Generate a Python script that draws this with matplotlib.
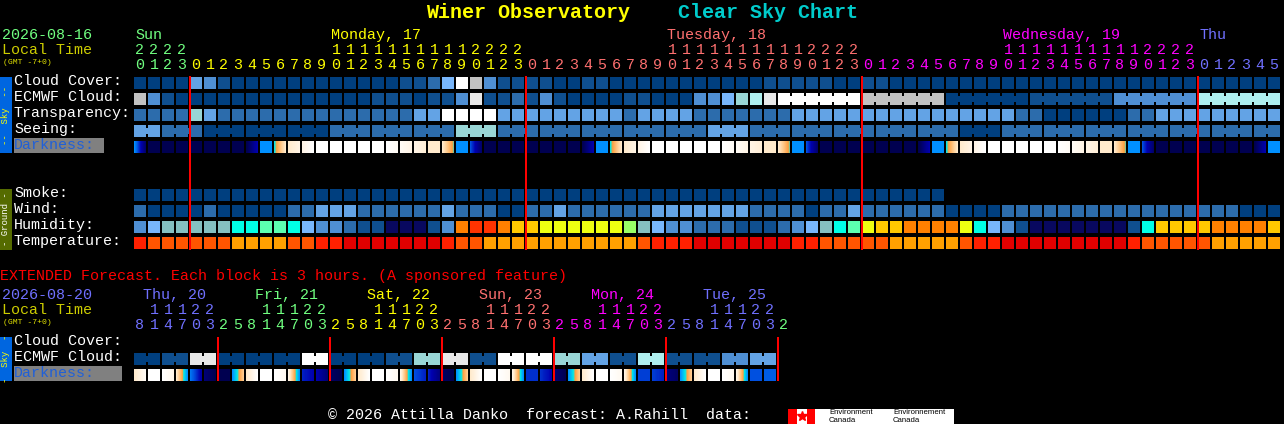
#Clear Sky Chart - Winer Observatory

import numpy as np
import matplotlib
matplotlib.use('Agg')
import matplotlib.pyplot as plt
from matplotlib.colors import LinearSegmentedColormap

FONT = 'Liberation Mono'

# Niveis (um valor por hora, a partir das 20h de domingo)
hours = [20, 21, 22, 23,
         0, 1, 2, 3, 4, 5, 6, 7, 8, 9, 10, 11, 12, 13, 14, 15, 16, 17, 18, 19, 20, 21, 22, 23,
         0, 1, 2, 3, 4, 5, 6, 7, 8, 9, 10, 11, 12, 13, 14, 15, 16, 17, 18, 19, 20, 21, 22, 23,
         0, 1, 2, 3, 4, 5, 6, 7, 8, 9, 10, 11, 12, 13, 14, 15, 16, 17, 18, 19, 20, 21, 22, 23,
         0, 1, 2, 3, 4, 5]

cloud_cover = [0, 0, 0, 0,
               4, 3, 1, 0, 0, 0, 0, 0, 0, 0, 0, 0, 0, 0, 0, 1, 1, 2, 5, 10, 8, 3, 1, 1,
               1, 1, 0, 0, 1, 1, 0, 0, 0, 0, 0, 0, 0, 0, 0, 0, 0, 1, 1, 1, 1, 1, 0, 0,
               1, 1, 0, 0, 0, 0, 0, 0, 0, 0, 0, 0, 0, 0, 0, 0, 0, 0, 0, 0, 0, 0, 0, 0,
               0, 0, 0, 0, 0, 0]
ecmwf_cloud = [8, 3, 1, 0,
               0, 0, 0, 0, 0, 0, 0, 0, 0, 0, 0, 0, 0, 1, 1, 1, 0, 1, 1, 3, 9, 1, 1, 2,
               1, 3, 1, 0, 0, 0, 0, 1, 1, 0, 0, 0, 3, 3, 5, 6, 7, 9, 10, 10, 10, 10, 10, 10,
               8, 8, 8, 8, 8, 8, 0, 0, 0, 0, 0, 0, 1, 1, 1, 1, 1, 1, 3, 3, 3, 3, 3, 3,
               7, 7, 7, 7, 7, 7]
transparency = [2, 2, 2, 2,
                6, 4, 2, 2, 2, 2, 2, 2, 2, 2, 2, 2, 2, 2, 2, 2, 4, 4, 10, 10, 10, 10, 4, 4,
                4, 4, 4, 4, 4, 4, 4, 2, 4, 4, 4, 4, 2, 2, 2, 2, 2, 2, 2, 4, 4, 4, 4, 4,
                4, 4, 4, 4, 4, 4, 4, 4, 4, 4, 4, 2, 2, 0, 0, 0, 0, 0, 0, 2, 2, 4, 4, 4,
                4, 4, 4, 4, 4, 4]
seeing = [4, 4, 2, 2,
          2, 0, 0, 0, 0, 0, 0, 0, 0, 0, 2, 2, 2, 2, 2, 2, 2, 2, 2, 6, 6, 6, 2, 2,
          2, 2, 2, 2, 2, 2, 2, 2, 2, 2, 2, 2, 2, 4, 4, 4, 2, 2, 2, 2, 2, 2, 2, 2,
          2, 2, 2, 2, 2, 2, 2, 0, 0, 0, 2, 2, 2, 2, 2, 2, 2, 2, 2, 2, 2, 2, 2, 2,
          2, 2, 2, 2, 2, 2]
smoke = [0, 0, 0, 0,
         0, 0, 0, 0, 0, 0, 0, 0, 0, 0, 0, 0, 0, 0, 0, 0, 0, 0, 0, 0, 0, 0, 0, 0,
         0, 0, 0, 0, 0, 0, 0, 0, 0, 0, 0, 0, 0, 0, 0, 0, 0, 0, 0, 0, 0, 0, 0, 0,
         0, 0, 0, 0, 0, 0]
wind = [2, 0, 0, 0,
        0, 2, 0, 0, 0, 0, 0, 2, 2, 4, 4, 4, 2, 2, 2, 2, 2, 2, 4, 2, 2, 2, 0, 0,
        2, 2, 4, 2, 2, 2, 2, 2, 2, 4, 4, 4, 4, 4, 4, 4, 2, 2, 2, 2, 0, 2, 2, 4,
        2, 2, 2, 2, 2, 2, 0, 0, 0, 0, 2, 2, 2, 2, 2, 2, 2, 2, 2, 2, 2, 2, 2, 2,
        2, 2, 2, 0, 0, 0]
humidity = [3, 4, 5, 5,
            5, 5, 5, 6, 6, 7, 7, 6, 4, 3, 3, 2, 1, 1, 0, 0, 0, 1, 3, 11, 12, 12, 11, 10,
            10, 9, 9, 9, 9, 9, 9, 8, 5, 4, 3, 3, 2, 2, 2, 1, 1, 1, 2, 3, 4, 5, 6, 7,
            9, 10, 10, 11, 11, 11, 11, 9, 6, 4, 3, 1, 0, 0, 0, 0, 0, 0, 0, 1, 6, 10, 10, 10,
            10, 11, 11, 11, 11, 10]
temperature = [1, 2, 2, 2,
               2, 2, 2, 3, 3, 3, 3, 2, 2, 1, 1, 0, 0, 0, 0, 0, 0, 0, 1, 2, 2, 3, 3, 3,
               3, 3, 3, 3, 3, 3, 3, 3, 2, 1, 1, 1, 0, 0, 0, 0, 0, 0, 0, 1, 1, 2, 2, 2,
               2, 2, 3, 3, 3, 3, 3, 2, 1, 1, 0, 0, 0, 0, 0, 0, 0, 0, 0, 1, 2, 2, 2, 2,
               2, 3, 3, 3, 3, 3]
darkness_start = [2, 0, 0, 0,
                  0, 0, 0, 0, 0, 2, 3, 5, 5.5, 6, 6, 6, 6, 6, 6, 5.8, 5.5, 5, 5, 2, 1.5, 0, 0, 0,
                  0, 0, 0, 0, 0, 2, 3, 5, 5.5, 6, 6, 6, 6, 6, 6, 5.8, 5.5, 5, 5, 2, 1.5, 0, 0, 0,
                  0, 0, 0, 0, 0, 2, 3, 5, 5.5, 6, 6, 6, 6, 6, 6, 5.8, 5.5, 5, 5, 2, 1.5, 0, 0, 0,
                  0, 0, 0, 0, 0, 2]
darkness_end = [0.3, 0, 0, 0,
                0, 0, 0, 0, 1, 2, 5, 5.5, 6, 6, 6, 6, 6, 6, 5.8, 5.5, 5.2, 5, 3.2, 2, 0.3, 0, 0, 0,
                0, 0, 0, 0, 1, 2, 5, 5.5, 6, 6, 6, 6, 6, 6, 5.8, 5.5, 5.2, 5, 3.2, 2, 0.3, 0, 0, 0,
                0, 0, 0, 0, 1, 2, 5, 5.5, 6, 6, 6, 6, 6, 6, 5.8, 5.5, 5.2, 5, 3.2, 2, 0.3, 0, 0, 0,
                0, 0, 0, 0, 1, 2]

# Previsao estendida (cada coluna = 3 horas)
ext_hours = [8, 11, 14, 17, 20, 23,
             2, 5, 8, 11, 14, 17, 20, 23,
             2, 5, 8, 11, 14, 17, 20, 23,
             2, 5, 8, 11, 14, 17, 20, 23,
             2, 5, 8, 11, 14, 17, 20, 23,
             2, 5, 8, 11, 14, 17, 20, 23,
             2]
ext_ecmwf = [0, 1, 9, 0, 0, 0, 10, 0, 0, 1, 6, 9, 1, 10, 10, 6, 4, 1, 7, 1, 1, 3, 4]
ext_darkness_start = [5, 6, 6, 5, 1.8, 0.4,
                      0, 2, 5, 6, 6, 5.5, 1.2, 1,
                      0.2, 2, 5, 6, 6, 5.5, 1.5, 1.2,
                      0.2, 2, 5, 6, 6, 5.5, 1.3, 1.3,
                      0.4, 2, 5, 6, 6, 5.5, 1.4, 1.4,
                      0.5, 2, 5, 6, 6, 5.5, 1.5, 1.6]
ext_darkness_end = [5.8, 6, 5.6, 2, 0.9, 0,
                    0, 4.3, 6, 6, 5.7, 2, 1, 0.4,
                    0, 4.3, 6, 6, 5.7, 2, 1.2, 0.5,
                    0, 4.3, 6, 6, 5.7, 2, 1.3, 1,
                    0, 4.3, 6, 6, 5.7, 2, 1.4, 1.2,
                    0.2, 4.3, 6, 6, 5.7, 2, 1.5, 1.6]

day_names = ['Sun', 'Monday, 17', 'Tuesday, 18', 'Wednesday, 19', 'Thu']
day_columns = [0, 14, 38, 62, 76]
day_colors = ['#70ff80', '#ffff00', '#ff7070', '#ff00ff', '#7070ff']
day_last_column = [3, 27, 51, 75, 81]
midnight_columns = [4, 28, 52, 76]

ext_day_names = ['Thu, 20', 'Fri, 21', 'Sat, 22', 'Sun, 23', 'Mon, 24', 'Tue, 25']
ext_day_colors = ['#7070ff', '#70ff80', '#ffff00', '#ff7070', '#ff00ff', '#7070ff', '#70ff80']
ext_day_last_column = [5, 13, 21, 29, 37, 45, 46]
ext_midnight_columns = [6, 14, 22, 30, 38, 46]

# Paletas
sky_colors = ['#003f7f', '#0f4f8f', '#2c6cac', '#4f8fd3', '#63a3e5', '#78b6fb',
              '#99d6d6', '#aeeeee', '#c2c2c2', '#e8e8e8', '#ffffff']
humidity_colors = ['#08085f', '#0f4f8f', '#2c6cac', '#4f8fd3', '#78b6fb', '#85c0c0', '#00ffe6',
                   '#5cffb0', '#99ff66', '#eeff11', '#ffc800', '#ff8000', '#ff3300']
temperature_colors = ['#e00000', '#ff2000', '#ff5500', '#ffa000']
darkness_cmap = LinearSegmentedColormap.from_list('darkness', [
    (0 / 6, '#000050'), (1 / 6, '#0000b0'), (1.5 / 6, '#0050e0'), (2 / 6, '#0090ff'),
    (3 / 6, '#00e8e8'), (3.4 / 6, '#ffa040'), (4.2 / 6, '#ffc888'), (5 / 6, '#ffeacc'),
    (6 / 6, '#ffffff')])

WHITE = '#ffffff'
LOCAL = '#cccc00'
RED = '#ff0000'

X0 = 134  # borda esquerda da primeira coluna
PITCH = 14
CELL = 12


def column_x(c):
    return X0 + PITCH * np.asarray(c)


def draw_row(ax, levels, y, colors, groups=None):
    c = np.arange(len(levels))
    cell_colors = [colors[v] for v in levels]
    ax.bar(column_x(c), CELL, width=CELL, bottom=y, align='edge',
           color=cell_colors, antialiased=False, zorder=2)
    if groups is None:
        return
    # Blocos de varias horas: ligacao estreita entre celulas do mesmo bloco
    for i in range(len(levels) - 1):
        if groups[i] == groups[i + 1] and levels[i] == levels[i + 1]:
            ax.bar(column_x(i) + CELL, CELL - 6, width=PITCH - CELL, bottom=y + 3, align='edge',
                   color=cell_colors[i], antialiased=False, zorder=2)


def draw_gradient_row(ax, start, end, y):
    for c in range(len(start)):
        values = np.linspace(start[c], end[c], CELL).reshape(1, -1)
        ax.imshow(values, cmap=darkness_cmap, vmin=0, vmax=6, aspect='auto',
                  interpolation='nearest', zorder=2,
                  extent=(column_x(c), column_x(c) + CELL, y + CELL, y))


def draw_day_lines(ax, columns, y0, y1):
    # Barra vermelha de 2 px na virada do dia
    ax.bar(column_x(columns) - 1, y1 - y0, width=2, bottom=y0, align='edge',
           color=RED, antialiased=False, zorder=5)


def draw_hours(ax, hour_list, last_columns, colors, y_tens, y_ones):
    day = 0
    for c, h in enumerate(hour_list):
        while c > last_columns[day]:
            day += 1
        x = column_x(c) + CELL / 2
        if h >= 10:
            label(ax, x, y_tens, str(h // 10), colors[day], ha='center')
        label(ax, x, y_ones, str(h % 10), colors[day], ha='center')


def label(ax, x, y, text, color, size=10.8, ha='left', **kw):
    ax.text(x, y, text, color=color, fontsize=size, family=FONT, ha=ha, va='center', **kw)


def side_bar(ax, y0, y1, color, text, text_color):
    ax.bar(0, y1 - y0, width=12, bottom=y0, align='edge', color=color, antialiased=False)
    ax.text(6, (y0 + y1) / 2, text, color=text_color, fontsize=6.5, family=FONT,
            rotation=90, ha='center', va='center')


def main():
    fig = plt.figure(figsize=(12.84, 4.24), dpi=100, facecolor='black')
    ax = fig.add_axes([0, 0, 1, 1])
    ax.set_facecolor('black')

    # Titulo
    ax.text(426, 12, 'Winer Observatory', color='#ffff00', fontsize=14.4, family=FONT,
            weight='bold', va='center')
    ax.text(678, 12, 'Clear Sky Chart', color='#00cccc', fontsize=14.4, family=FONT,
            weight='bold', va='center')

    # Cabecalho do grafico principal
    label(ax, 2, 35, '2026-08-16', '#70ff80')
    label(ax, 2, 50, 'Local Time', LOCAL)
    label(ax, 3, 62, '(GMT -7+0)', '#e0e000', size=5.9)
    for name, col, color in zip(day_names, day_columns, day_colors):
        label(ax, column_x(col) + 1, 35, name, color)
    draw_hours(ax, hours, day_last_column, day_colors, 50, 65)

    # Linhas do ceu
    sky_rows = ['Cloud Cover:', 'ECMWF Cloud:', 'Transparency:', 'Seeing:']
    for i, name in enumerate(sky_rows):
        label(ax, 14, 81 + 16 * i, name, WHITE)
    ax.bar(14, 15, width=90, bottom=138, align='edge', color='#808080', antialiased=False)
    label(ax, 14, 145, 'Darkness:', '#2060d8')
    side_bar(ax, 77, 153, '#0066e0', '--  Sky  --', '#ffff00')

    ecmwf_groups = [i if i < 46 else 46 + (i - 46) // 6 for i in range(len(ecmwf_cloud))]
    seeing_groups = [(i + 1) // 3 for i in range(len(seeing))]
    draw_row(ax, cloud_cover, 77, sky_colors)
    draw_row(ax, ecmwf_cloud, 93, sky_colors, ecmwf_groups)
    draw_row(ax, transparency, 109, sky_colors)
    draw_row(ax, seeing, 125, sky_colors, seeing_groups)
    draw_gradient_row(ax, darkness_start, darkness_end, 141)

    # Linhas do solo
    ground_rows = ['Smoke:', 'Wind:', 'Humidity:', 'Temperature:']
    for i, name in enumerate(ground_rows):
        label(ax, 14, 193 + 16 * i, name, WHITE)
    side_bar(ax, 189, 250, '#556b00', '- Ground -', WHITE)

    draw_row(ax, smoke, 189, sky_colors)
    draw_row(ax, wind, 205, sky_colors)
    draw_row(ax, humidity, 221, humidity_colors)
    draw_row(ax, temperature, 237, temperature_colors)

    # Separadores de dia
    draw_day_lines(ax, midnight_columns, 76, 250)

    # Previsao estendida
    label(ax, 0, 276, 'EXTENDED Forecast. Each block is 3 hours. (A sponsored feature)', RED)
    label(ax, 2, 295, '2026-08-20', '#7070ff')
    label(ax, 2, 310, 'Local Time', LOCAL)
    label(ax, 3, 322, '(GMT -7+0)', '#e0e000', size=5.9)
    for k, (name, color) in enumerate(zip(ext_day_names, ext_day_colors)):
        label(ax, 143 + 112 * k, 295, name, color)
    draw_hours(ax, ext_hours, ext_day_last_column, ext_day_colors, 310, 325)

    label(ax, 14, 341, 'Cloud Cover:', WHITE)
    label(ax, 14, 357, 'ECMWF Cloud:', WHITE)
    ax.bar(14, 15, width=108, bottom=366, align='edge', color='#808080', antialiased=False)
    label(ax, 14, 373, 'Darkness:', '#2060d8')
    side_bar(ax, 337, 381, '#0066e0', '-  Sky  -', '#ffff00')

    ext_levels = np.repeat(ext_ecmwf, 2)
    ext_groups = np.repeat(np.arange(len(ext_ecmwf)), 2)
    draw_row(ax, ext_levels, 353, sky_colors, ext_groups)
    draw_gradient_row(ax, ext_darkness_start, ext_darkness_end, 369)
    draw_day_lines(ax, ext_midnight_columns, 337, 381)

    # Rodape
    label(ax, 328, 415, '\u00a9 2026 Attilla Danko  forecast: A.Rahill  data:', WHITE)
    ax.bar(788, 15, width=166, bottom=409, align='edge', color=WHITE, antialiased=False)
    ax.bar([788, 807], 15, width=[9, 8], bottom=409, align='edge', color=RED, antialiased=False)
    ax.plot([802], [416], marker='*', markersize=7, color=RED, linestyle='none')
    for x, word in [(829, 'Environment'), (893, 'Environnement')]:
        ax.text(x, 412.5, word, color='black', fontsize=5.6, family='Liberation Sans', va='center')
        ax.text(x, 420, 'Canada', color='black', fontsize=5.6, family='Liberation Sans', va='center')

    ax.set_xlim(0, 1284)
    ax.set_ylim(424, 0)
    ax.axis('off')
    fig.savefig('out.png', dpi=100, facecolor='black')


if __name__ == "__main__":
    main()
